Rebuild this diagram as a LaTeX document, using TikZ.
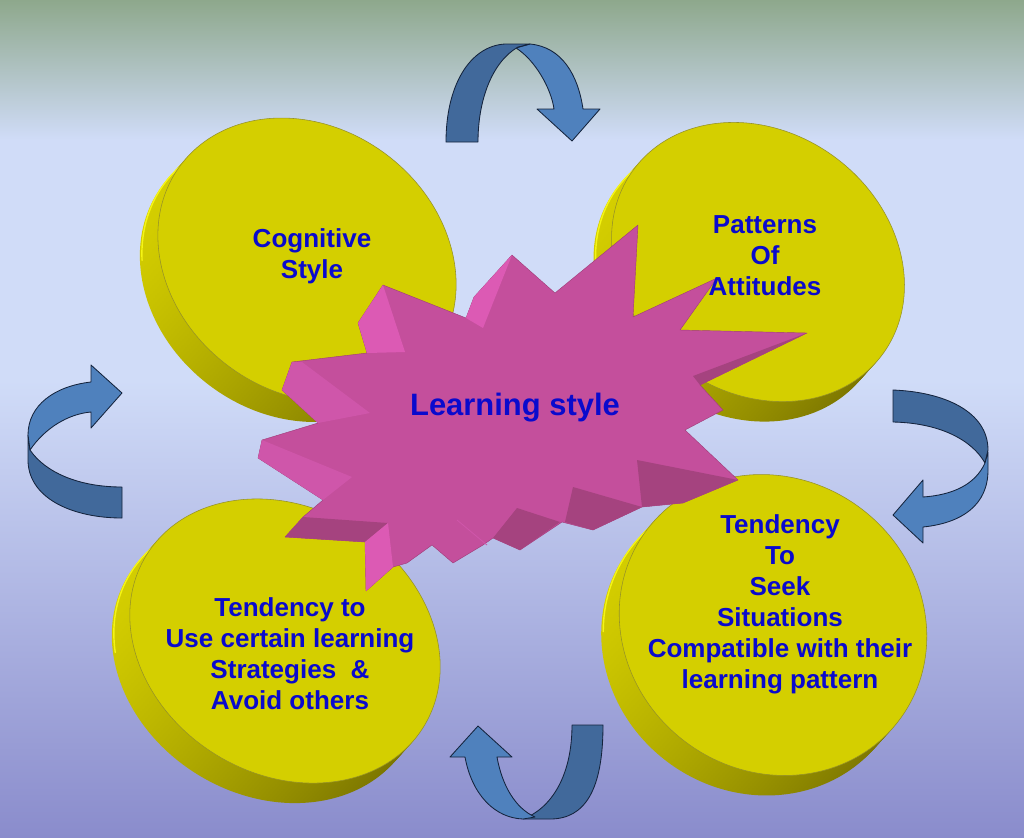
\documentclass[tikz,border=0pt]{standalone}
\usepackage{fontspec}
\setmainfont{Liberation Sans}

\definecolor{bgtop}{RGB}{142,168,140}
\definecolor{bglight}{RGB}{208,220,248}
\definecolor{bgbottom}{RGB}{138,140,204}
\definecolor{discface}{RGB}{212,207,0}
\definecolor{discrim}{RGB}{150,146,40}
\definecolor{discbright}{RGB}{214,208,0}
\definecolor{discdark}{RGB}{120,114,0}
\definecolor{discshine}{RGB}{245,245,20}
\definecolor{starface}{RGB}{196,79,156}
\definecolor{starlight}{RGB}{220,90,180}
\definecolor{starsoft}{RGB}{207,86,170}
\definecolor{stardark}{RGB}{165,67,127}
\definecolor{starline}{RGB}{160,60,120}
\definecolor{arrowlight}{RGB}{79,129,189}
\definecolor{arrowdark}{RGB}{65,105,155}
\definecolor{arrowline}{RGB}{20,35,60}
\definecolor{labelblue}{RGB}{10,10,205}

\tikzset{%
    every node/.style={font=\bfseries\fontsize{18.5}{22}\selectfont,
        text=labelblue, align=center, inner sep=0pt},
    disc/.style={fill=discface, draw=discrim, line width=.4pt},
    discside/.style={top color=discbright, bottom color=discdark,
        shading angle=65},
    star/.style={fill=starface, draw=starline, line width=.3pt,
        line join=round},
    ribbon/.style={draw=arrowline, line width=.6pt, line join=round}
}

\begin{document}
\begin{tikzpicture}[x=0.025cm, y=0.025cm]
	\useasboundingbox (0,0) rectangle (1024,-837);
	\shade[top color=bgtop, bottom color=bglight] (0,0) rectangle (1024,-140);
	\fill[bglight] (0,-140) rectangle (1024,-380);
	\shade[top color=bglight, bottom color=bgbottom] (0,-380) rectangle (1024,-837);
	% discs
	\foreach \cx/\cy/\xr/\yr/\rot in {307/-260/158/132/-37, 758/-262/155/130/-37,
	    285/-641/163/133/-32, 773/-625/158/146/-37} {
		\foreach \s in {1,0.9,...,0.05}
			\shade[discside, rotate around={\rot:(\cx-18*\s,\cy-20*\s)}]
			    (\cx-18*\s,\cy-20*\s) ellipse [x radius=\xr, y radius=\yr];
		\draw[discshine, line width=1pt, rotate around={\rot:(\cx-16,\cy-18)}]
		    ({\cx-16+\xr*cos(150)},{\cy-18+\yr*sin(150)}) arc [start angle=150,
		    end angle=215, x radius=\xr, y radius=\yr];
		\filldraw[disc, rotate around={\rot:(\cx,\cy)}]
		    (\cx,\cy) ellipse [x radius=\xr, y radius=\yr];
	}
	% star
	\filldraw[star] (638,-225) -- (633,-317) -- (717,-278) -- (680,-330)
	    -- (807,-333) -- (700,-385) -- (723,-410) -- (685,-430) -- (738,-480)
	    -- (683,-503) -- (642,-507) -- (593,-530) -- (562,-522) -- (520,-550)
	    -- (493,-538) -- (483,-545) -- (453,-563) -- (432,-545) -- (407,-563)
	    -- (393,-567) -- (366,-591) -- (365,-542) -- (285,-537) -- (303,-517)
	    -- (323,-500) -- (258,-458) -- (262,-440) -- (318,-423) -- (282,-390)
	    -- (292,-362) -- (367,-353) -- (358,-323) -- (383,-285) -- (466,-318)
	    -- (474,-297) -- (512,-255) -- (555,-293) -- cycle;
	\fill[stardark] (637,-460) -- (738,-480) -- (683,-503) -- (642,-507) -- cycle;
	\fill[stardark] (573,-487) -- (642,-507) -- (593,-530) -- (565,-522) -- cycle;
	\fill[stardark] (517,-508) -- (560,-522) -- (520,-550) -- (493,-538) -- cycle;
	\fill[stardark] (303,-517) -- (388,-523) -- (365,-542) -- (285,-537) -- cycle;
	\fill[stardark] (807,-333) -- (693,-376) -- (700,-385) -- cycle;
	\fill[starlight] (383,-285) -- (405,-352) -- (367,-353) -- (358,-323) -- cycle;
	\fill[starlight] (512,-255) -- (483,-328) -- (466,-318) -- (474,-297) -- cycle;
	\fill[starlight] (388,-523) -- (365,-542) -- (366,-591) -- (393,-567) -- cycle;
	\fill[starsoft] (292,-362) -- (302,-362) -- (370,-413) -- (318,-423)
	    -- (282,-390) -- cycle;
	\fill[starsoft] (262,-440) -- (352,-477) -- (323,-500) -- (258,-458) -- cycle;
	\draw[starsoft, line width=.6pt] (457,-520) -- (487,-545);
	% arrows
	\filldraw[ribbon, fill=arrowlight] (516,-48) .. controls (535,-60) and (551,-88)
	    .. (554,-109) -- (537,-109) -- (572,-141) -- (600,-109) -- (583,-109)
	    .. controls (578,-75) and (562,-47) .. (530,-44) -- cycle;
	\filldraw[ribbon, fill=arrowdark] (446,-142) -- (478,-142)
	    .. controls (478,-100) and (492,-62) .. (518,-47) -- (530,-44) -- (505,-44)
	    .. controls (470,-46) and (446,-85) .. (446,-142) -- cycle;
	\filldraw[ribbon, fill=arrowdark] (28,-435) -- (28,-462)
	    .. controls (30,-500) and (75,-518) .. (122,-518) -- (122,-487)
	    .. controls (78,-487) and (45,-472) .. (30,-450) -- cycle;
	\filldraw[ribbon, fill=arrowlight] (91,-382) .. controls (55,-386) and (28,-405)
	    .. (28,-435) -- (30,-450) .. controls (45,-428) and (68,-414) .. (91,-412)
	    -- (91,-428) -- (122,-393) -- (91,-365) -- cycle;
	\filldraw[ribbon, fill=arrowdark] (893,-390) .. controls (945,-392) and (988,-412)
	    .. (988,-450) -- (985,-463) .. controls (972,-440) and (940,-423)
	    .. (893,-422) -- cycle;
	\filldraw[ribbon, fill=arrowlight] (985,-463) .. controls (975,-485) and (952,-495)
	    .. (923,-497) -- (923,-480) -- (893,-515) -- (923,-543) -- (923,-527)
	    .. controls (962,-523) and (988,-505) .. (988,-470) -- (988,-452) -- cycle;
	\filldraw[ribbon, fill=arrowdark] (572,-725) -- (603,-725)
	    .. controls (603,-790) and (585,-819) .. (550,-819) -- (523,-819)
	    .. controls (552,-808) and (572,-775) .. (572,-725) -- cycle;
	\filldraw[ribbon, fill=arrowlight] (450,-757) -- (478,-726) -- (512,-757)
	    -- (497,-757) .. controls (502,-785) and (515,-808) .. (535,-817)
	    -- (523,-819) .. controls (495,-818) and (472,-795) .. (465,-757) -- cycle;
	% labels
	\node (cognitive) at (312,-256) {Cognitive\\Style};
	\node (patterns) at (765,-256) {Patterns\\Of\\Attitudes};
	\node (strategies) at (290,-654) {Tendency to\\Use certain learning\\Strategies\ \ \&\\Avoid others};
	\node (situations) at (780,-604) {Tendency\\To\\Seek\\Situations\\Compatible with their\\learning pattern};
	\node[font=\bfseries\fontsize{22}{26}\selectfont] (learning) at (515,-408) {Learning style};
\end{tikzpicture}
\end{document}
